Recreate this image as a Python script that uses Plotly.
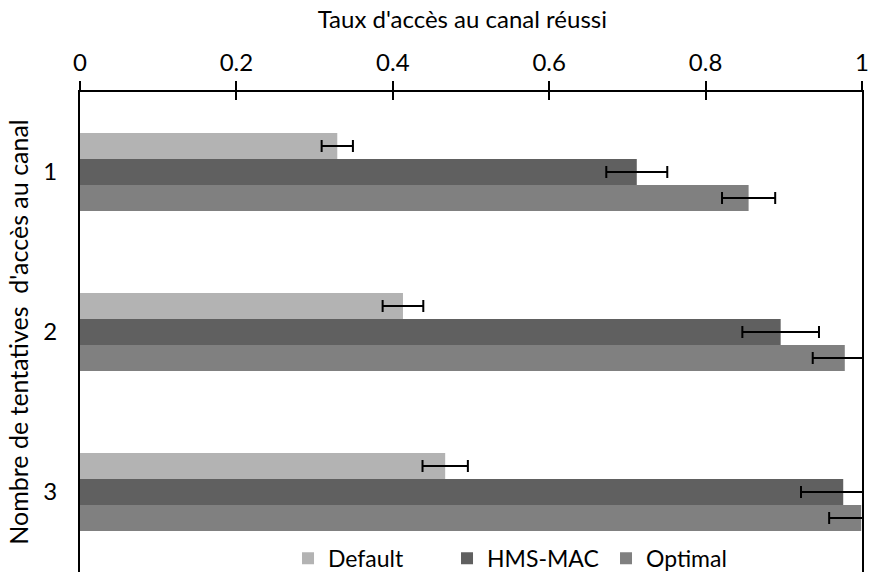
import plotly.graph_objects as go

attempts = ["1", "2", "3"]
series = ["Default", "HMS-MAC", "Optimal"]
colors = ["#b3b3b3", "#606060", "#808080"]

default_vals = [0.329, 0.413, 0.467]
default_err = [0.020, 0.026, 0.029]
hms_vals = [0.712, 0.896, 0.976]
hms_err = [0.039, 0.049, 0.054]
optimal_vals = [0.855, 0.978, 0.999]
optimal_err = [0.034, 0.041, 0.041]

x_ticks = [0, 0.2, 0.4, 0.6, 0.8, 1]
x_tick_text = ["0", "0.2", "0.4", "0.6", "0.8", "1"]

values = [default_vals, hms_vals, optimal_vals]
errors = [default_err, hms_err, optimal_err]

font = "Lato, 'Open Sans', sans-serif"

fig = go.Figure()
for name, color, vals, errs in zip(series, colors, values, errors):
    fig.add_trace(go.Bar(
        y=attempts, x=vals, name=name, orientation="h",
        marker=dict(color=color, line=dict(width=0)),
        error_x=dict(type="data", array=errs, color="black", thickness=2, width=6),
    ))

# dummy invisible trace so the overlay axis (inside half of the crossing ticks) is drawn
fig.add_trace(go.Scatter(x=[0, 1], y=[attempts[0], attempts[0]], xaxis="x2", mode="none",
                         showlegend=False, hoverinfo="skip"))

fig.update_layout(
    width=869, height=573,
    margin=dict(l=80, r=7, t=92, b=1, autoexpand=False),
    paper_bgcolor="white", plot_bgcolor="white",
    font=dict(family=font, size=24, color="black"),
    barmode="group", bargap=0.5125, bargroupgap=0,
    title=dict(text="Taux d'accès au canal réussi", x=0.532, xanchor="center",
               y=0.965, yanchor="middle", font=dict(size=24)),
    legend=dict(orientation="h", x=0.266, xanchor="left", y=-0.016, yanchor="bottom",
                bgcolor="rgba(0,0,0,0)", font=dict(size=23), itemwidth=30,
                entrywidth=114, traceorder="normal"),
    xaxis=dict(
        side="top", range=[0, 1], tickvals=x_ticks, ticktext=x_tick_text,
        showgrid=False, zeroline=False, automargin=False,
        showline=True, linecolor="black", linewidth=2,
        ticks="outside", ticklen=9, tickwidth=2, tickcolor="black",
    ),
    xaxis2=dict(
        overlaying="x", side="top", range=[0, 1], tickvals=x_ticks,
        showgrid=False, zeroline=False, showticklabels=False, showline=False,
        ticks="inside", ticklen=8, tickwidth=2, tickcolor="black",
    ),
    yaxis=dict(
        autorange=False, range=[2.5, -0.5], automargin=False,
        showgrid=False, zeroline=False,
        showline=True, linecolor="black", linewidth=2, mirror=True,
        ticks="", ticklabelstandoff=16,
        title=dict(text="Nombre de tentatives  d'accès au canal", font=dict(size=25), standoff=8),
    ),
)

fig.write_html("out.html", config={"displayModeBar": False},
               post_script="document.body.style.margin='0';")
